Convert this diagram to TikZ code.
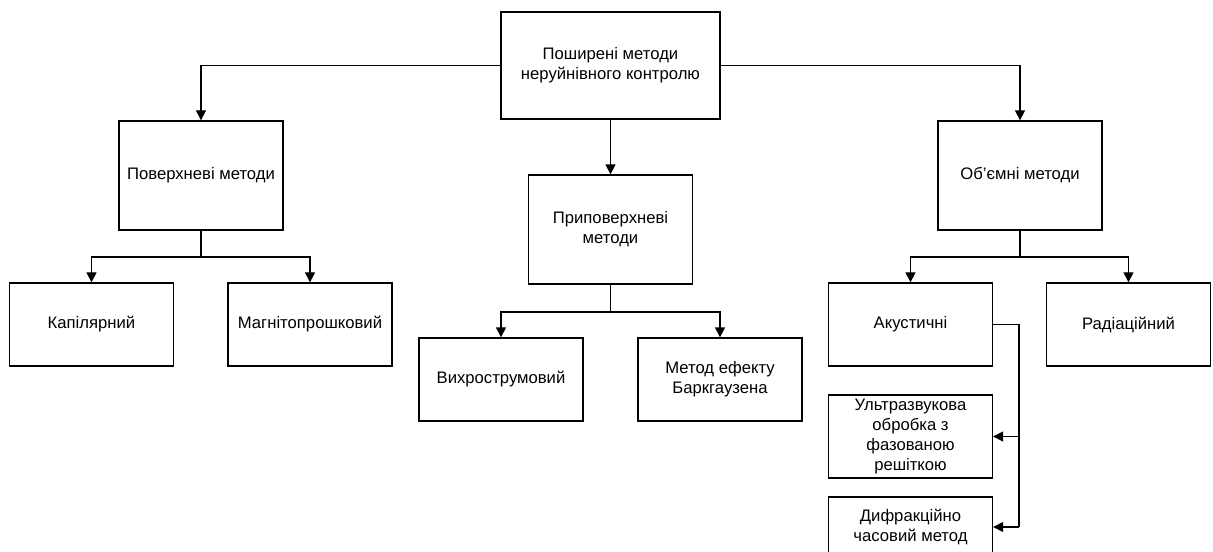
\documentclass[tikz,border=0pt]{standalone}
\usepackage{fontspec}
\setmainfont{Liberation Sans}
\usetikzlibrary{arrows.meta}

\tikzset{
    box/.style={draw, line width=1pt, align=center, inner sep=0pt,
        minimum width=123pt, font=\fontsize{12.5}{15}\selectfont},
    rootbox/.style={box, minimum width=164.25pt, minimum height=80.25pt},
    groupbox/.style={box, minimum height=81.75pt},
    leafbox/.style={box, minimum height=62.25pt},
    arr/.style={line width=1pt, -{Triangle[length=7.5pt, width=7.5pt]}},
    wire/.style={line width=1pt}
}

\begin{document}
\begin{tikzpicture}[x=0.75pt, y=-0.75pt]
            \clip (0,0) rectangle (1213,552);
            \fill[white] (0,0) rectangle (1213,552);

            \node[rootbox] (root) at (610.5,65.5) {Поширені методи\\неруйнівного контролю};

            \node[groupbox] (surf) at (201,175.5) {Поверхневі методи};
            \node[groupbox] (subsurf) at (610.5,229.5) {Приповерхневі\\методи};
            \node[groupbox] (volume) at (1020,175.5) {Об'ємні методи};

            \node[leafbox] (capil) at (91.5,324.5) {Капілярний};
            \node[leafbox] (magnet) at (310,324.5) {Магнітопрошковий};
            \node[leafbox] (eddy) at (501,379.5) {Вихрострумовий};
            \node[leafbox] (bark) at (720,379.5) {Метод ефекту\\Баркгаузена};
            \node[leafbox] (acoust) at (910.5,324.5) {Акустичні};
            \node[leafbox] (radiat) at (1128.5,324.5) {Радіаційний};
            \node[leafbox] (phased) at (910.5,436.5) {Ультразвукова\\обробка з\\фазованою\\решіткою};
            \node[box, minimum height=45pt] (tofd) at (910.5,527) {Дифракційно\\часовий метод};

            \coordinate (surffork) at (201,257);
            \coordinate (subfork) at (610.5,312);
            \coordinate (volfork) at (1020,257);
            \coordinate (acbus) at (1019,436.5);

            \draw[arr] (root.west) -| (surf.north);
            \draw[arr] (root.east) -| (volume.north);
            \draw[arr] (root.south) -- (subsurf.north);

            \draw[wire] (surf.south) -- (surffork);
            \draw[arr] (surffork) -| (capil.north);
            \draw[arr] (surffork) -| (magnet.north);

            \draw[wire] (subsurf.south) -- (subfork);
            \draw[arr] (subfork) -| (eddy.north);
            \draw[arr] (subfork) -| (bark.north);

            \draw[wire] (volume.south) -- (volfork);
            \draw[arr] (volfork) -| (acoust.north);
            \draw[arr] (volfork) -| (radiat.north);

            \draw[wire] (acoust.east) -| (acbus |- tofd.east);
            \draw[arr] (acbus) -- (phased.east);
            \draw[arr] (acbus |- tofd.east) -- (tofd.east);
\end{tikzpicture}
\end{document}
